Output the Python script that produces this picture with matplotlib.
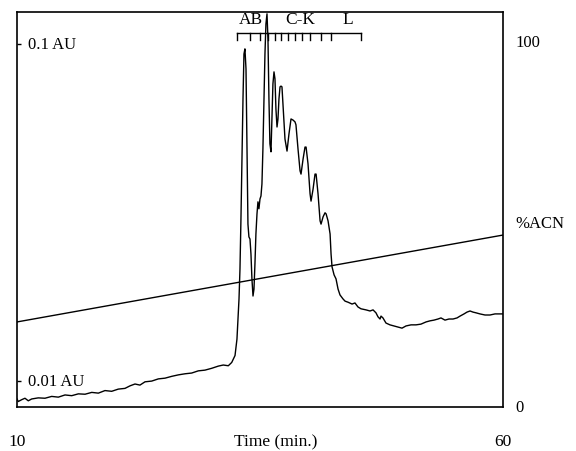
import numpy as np
import matplotlib
matplotlib.use("Agg")
from matplotlib import pyplot as plt

plt.rcParams['font.family'] = ['Liberation Serif', 'DejaVu Serif']

# chromatogram, time (min) vs signal (% of full scale)
time_min = [10.00, 10.13, 10.48, 10.82, 11.16, 11.51, 12.19, 12.88, 13.57, 14.25,
            14.94, 15.63, 16.31, 17.00, 17.69, 18.37, 19.05, 19.74, 20.42, 21.11,
            21.63, 22.14, 22.65, 23.17, 23.86, 24.54, 25.23, 25.92, 26.60, 27.29,
            27.97, 28.65, 29.34, 30.03, 30.71, 31.22, 31.74, 32.09, 32.43,
            32.63, 32.74, 32.84, 32.94, 33.04, 33.14, 33.25, 33.35,
            33.45, 33.56, 33.66, 33.76, 33.86, 33.97, 34.07, 34.17, 34.28, 34.38,
            34.48, 34.58, 34.69, 34.79, 34.89, 35.00, 35.10, 35.20, 35.30, 35.41,
            35.51, 35.61, 35.72, 35.82, 35.92, 36.02, 36.13, 36.23, 36.33, 36.44,
            36.54, 36.64, 36.75, 36.85, 36.95, 37.06, 37.16, 37.26, 37.36, 37.57,
            37.78, 37.98, 38.19, 38.40, 38.60, 38.70, 38.91, 39.12, 39.22, 39.43,
            39.63, 39.74, 39.94, 40.15, 40.25, 40.46, 40.66, 40.77, 40.97, 41.18,
            41.28, 41.49, 41.69, 41.80, 42.00, 42.21, 42.31, 42.41, 42.62, 42.82,
            43.03, 43.23, 43.54, 43.75, 44.06, 44.47, 44.77, 45.08, 45.39, 45.91,
            46.32, 46.63, 46.93, 47.14, 47.35, 47.45, 47.65, 47.96, 48.37, 48.79,
            49.20, 49.61, 50.02, 50.54, 51.05, 51.56, 52.08, 52.49, 52.90, 53.31,
            53.62, 54.03, 54.44, 54.86, 55.27, 55.58, 55.99, 56.30, 56.61, 56.91,
            57.22, 57.63, 58.15, 58.66, 59.18, 59.69, 60.00]
signal = [2.2, 1.5, 2.0, 2.4, 1.7, 2.2, 2.5, 2.4, 2.9, 2.7,
          3.3, 3.1, 3.6, 3.5, 4.0, 3.8, 4.5, 4.3, 4.9, 5.1,
          5.8, 6.3, 6.0, 6.9, 7.1, 7.7, 7.9, 8.4, 8.8, 9.1,
          9.3, 9.9, 10.1, 10.6, 11.2, 11.5, 11.3, 12.2, 14.1,
          18.6, 24.1, 29.6, 37.8, 51.5, 67.9, 84.4, 96.7,
          98.1, 92.6, 70.7, 50.1, 46.6, 46.0, 41.9, 35.1, 30.4, 32.3,
          39.2, 47.4, 52.9, 56.2, 54.3, 57.0, 57.8, 61.1, 70.7, 84.4,
          96.7, 104.9, 107.7, 100.8, 84.4, 72.1, 69.9, 78.9, 88.5, 91.8,
          89.9, 81.6, 76.7, 78.9, 84.4, 87.7, 87.9, 87.7, 83.0, 73.4,
          70.1, 74.8, 78.9, 78.6, 78.1, 77.3, 70.7, 64.7, 63.8, 67.9,
          71.2, 71.2, 66.6, 58.4, 56.4, 59.7, 63.8, 63.8, 58.4, 51.0,
          50.1, 52.1, 53.2, 52.9, 51.0, 47.4, 41.9, 38.4, 36.2, 35.1,
          32.3, 30.7, 29.6, 29.0, 28.7, 28.2, 28.5, 27.4, 26.9, 26.6,
          26.3, 26.6, 25.8, 24.7, 24.1, 24.9, 24.4, 23.0, 22.5, 22.2,
          21.9, 21.6, 22.2, 22.5, 22.5, 22.7, 23.3, 23.6, 23.8, 24.1,
          24.4, 23.8, 24.1, 24.1, 24.4, 24.9, 25.5, 26.0, 26.3, 26.0,
          25.8, 25.5, 25.2, 25.2, 25.5, 25.5, 25.5]

# acetonitrile gradient
acn_time = [10, 60]
acn_pct = [23.3, 47.1]

# fraction bracket
frac_times = [32.63, 33.97, 34.99, 35.82, 36.54, 37.16, 37.88, 38.60, 39.32,
              40.14, 41.28, 42.31, 45.39]
frac_labels = ['AB', 'C-K', 'L']
frac_label_times = [34.07, 39.10, 44.05]

au_labels = ['0.1 AU', '0.01 AU']
au_levels = [99.5, 7.1]
acn_labels = ['100', '%ACN', '0']
acn_levels = [100, 50.4, 0]
x_labels = ['10', '60']
x_label_times = [10, 60]

fig = plt.figure(figsize=(5.76, 4.52), dpi=100)
ax = fig.add_axes([17/576, 44/452, 486/576, 395/452])
ax.set_xlim(10, 60)
ax.set_ylim(0, 108.2)

ax.plot(time_min, signal, color='black', lw=1.0)
ax.plot(acn_time, acn_pct, color='black', lw=1.0)

# bracket with ticks
ax.plot([frac_times[0], frac_times[-1]], [102.5, 102.5], color='black', lw=1.0)
for t in frac_times:
    ax.plot([t, t], [102.5, 100.6], color='black', lw=1.0)
for lab, t in zip(frac_labels, frac_label_times):
    ax.text(t, 106.2, lab, ha='center', va='center', fontsize=12.5)

for sp in ax.spines.values():
    sp.set_linewidth(1.2)

ax.set_xticks([])
ax.set_yticks(au_levels)
ax.set_yticklabels([])
ax.tick_params(axis='y', direction='in', length=3, width=1.0)

ytr = ax.get_yaxis_transform()
for lab, lv in zip(au_labels, au_levels):
    ax.text(0.023, lv, lab, transform=ytr, ha='left', va='center', fontsize=12)
for lab, lv in zip(acn_labels, acn_levels):
    ax.text(1.025, lv, lab, transform=ytr, ha='left', va='center', fontsize=12)

xtr = ax.get_xaxis_transform()
for lab, t in zip(x_labels, x_label_times):
    ax.text(t, -0.086, lab, transform=xtr, ha='center', va='center', fontsize=12.5)
ax.text(36.65, -0.086, 'Time (min.)', transform=xtr, ha='center', va='center', fontsize=12.5)

fig.savefig('out.png', dpi=100)
